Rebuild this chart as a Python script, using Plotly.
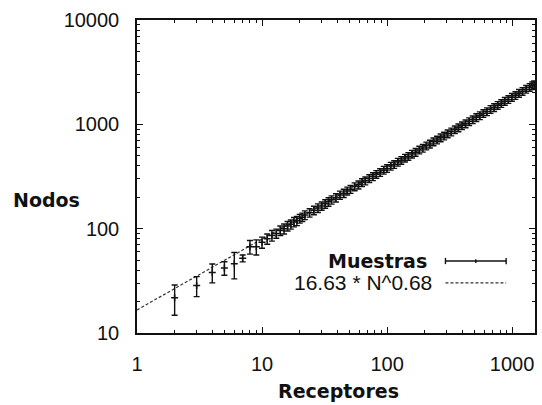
import plotly.graph_objects as go

# ---- data ----
receptores = [2, 3, 4, 5, 6, 7, 8, 9, 10, 11, 12, 13, 14, 15, 16, 17, 18, 19,
              20, 21, 22, 24, 26, 28, 30, 32, 34, 36, 39, 42, 45, 48, 51, 55, 59, 63, 67,
              72, 77, 82, 88, 94, 100, 107, 114, 122, 130, 139, 148, 158, 169, 181, 193,
              206, 220, 235, 251, 268, 286, 305, 326, 348, 372, 397, 424, 453, 484, 517,
              552, 589, 629, 672, 718, 767, 819, 874, 933, 996, 1063, 1135, 1212, 1294,
              1381, 1450, 1500]
nodos = [21.8, 28.5, 38, 42, 46, 52, 67, 67, 74, 80, 86, 90, 96, 100, 106, 110, 116, 119,
         125, 129, 135, 142, 150, 158, 165, 173, 181, 189, 198, 210, 219, 230, 239, 253, 263, 277, 288,
         303, 316, 332, 346, 364, 378, 398, 413, 435, 452, 475, 494, 519, 541, 569, 592,
         622, 648, 681, 709, 744, 775, 812, 847, 889, 927, 972, 1013, 1064, 1109, 1165,
         1213, 1273, 1326, 1392, 1450, 1523, 1587, 1664, 1734, 1820, 1895, 1988, 2072, 2174,
         2265, 2350, 2398]
errores = [7, 6.2, 7.8, 6.2, 13, 4, 10, 11, 9, 9, 10, 9, 10, 11, 11, 11, 12, 12,
           12, 12, 13, 13, 14, 15, 15, 16, 17, 17, 18, 19, 20, 20, 21, 22, 23, 24, 25,
           26, 27, 28, 29, 31, 32, 34, 35, 37, 38, 40, 42, 44, 46, 48, 50,
           53, 55, 58, 60, 63, 66, 69, 72, 75, 79, 82, 86, 90, 94, 99,
           103, 108, 113, 118, 123, 129, 134, 141, 147, 153, 160, 168, 175, 183,
           191, 198, 203]

fit_coef = 16.63
fit_exp = 0.68
fit_x = [1, 1525]
fit_y = [fit_coef * v ** fit_exp for v in fit_x]

x_ticks = [1, 10, 100, 1000]
y_ticks = [10, 100, 1000, 10000]

fig = go.Figure()

fig.add_trace(go.Scatter(
    x=fit_x, y=fit_y, mode="lines",
    line=dict(color="#333333", width=1.2, dash="3px,2px"),
    showlegend=False, hoverinfo="skip"))

fig.add_trace(go.Scatter(
    x=receptores, y=nodos, mode="markers",
    marker=dict(symbol="cross-thin", size=5, line=dict(color="#111111", width=1.5)),
    error_y=dict(type="data", array=errores, color="#111111", thickness=1.4, width=3),
    showlegend=False))

axis_common = dict(
    type="log", showline=True, linecolor="#111111", linewidth=1.5, mirror="ticks",
    ticks="inside", ticklen=6, tickwidth=1, tickcolor="#111111",
    showgrid=False, zeroline=False,
    tickfont=dict(family="Liberation Sans, Arial, sans-serif", size=20, color="#111111"),
    minor=dict(ticks="inside", ticklen=3, tickwidth=1, tickcolor="#111111", dtick="D1", showgrid=False),
)

fig.update_xaxes(**axis_common, range=[0, 3.183], tickvals=x_ticks,
                 ticktext=[str(v) for v in x_ticks], ticklabelstandoff=12)
fig.update_yaxes(**axis_common, range=[1, 4], tickvals=y_ticks,
                 ticktext=[str(v) for v in y_ticks], ticklabelstandoff=12)

# legend drawn manually (gnuplot style: text right-aligned, sample on the right)
lx0, lx1 = 0.775, 0.9275
ly1, ly2 = 0.230, 0.160
shapes = [
    dict(type="line", xref="paper", yref="paper", x0=lx0, x1=lx1, y0=ly1, y1=ly1,
         line=dict(color="#111111", width=1.4)),
    dict(type="line", xref="paper", yref="paper", x0=lx0, x1=lx0, y0=ly1 - 0.01, y1=ly1 + 0.01,
         line=dict(color="#111111", width=1.4)),
    dict(type="line", xref="paper", yref="paper", x0=lx1, x1=lx1, y0=ly1 - 0.01, y1=ly1 + 0.01,
         line=dict(color="#111111", width=1.4)),
    dict(type="line", xref="paper", yref="paper", x0=(lx0 + lx1) / 2, x1=(lx0 + lx1) / 2,
         y0=ly1 - 0.006, y1=ly1 + 0.006, line=dict(color="#111111", width=1.4)),
    dict(type="line", xref="paper", yref="paper", x0=lx0, x1=lx1, y0=ly2, y1=ly2,
         line=dict(color="#333333", width=1.2, dash="3px,2px")),
]

annotations = [
    dict(text="<b>Muestras</b>", xref="paper", yref="paper", x=0.7325, y=ly1,
         xanchor="right", yanchor="middle", showarrow=False,
         font=dict(family="DejaVu Sans", size=19, color="#111111")),
    dict(text="16.63 * N^0.68", xref="paper", yref="paper", x=0.745, y=ly2,
         xanchor="right", yanchor="middle", showarrow=False,
         font=dict(family="Liberation Sans, Arial, sans-serif", size=21, color="#111111")),
    dict(text="<b>Nodos</b>", xref="paper", yref="paper", x=-0.2275, y=0.425,
         xanchor="center", yanchor="middle", showarrow=False,
         font=dict(family="DejaVu Sans", size=19, color="#111111")),
    dict(text="<b>Receptores</b>", xref="paper", yref="paper", x=0.506, y=-0.185,
         xanchor="center", yanchor="middle", showarrow=False,
         font=dict(family="DejaVu Sans", size=19, color="#111111")),
]

fig.update_layout(
    width=542, height=405,
    margin=dict(l=137, r=5, t=20, b=72),
    paper_bgcolor="white", plot_bgcolor="white",
    shapes=shapes, annotations=annotations,
)

fig.write_html("out.html")
